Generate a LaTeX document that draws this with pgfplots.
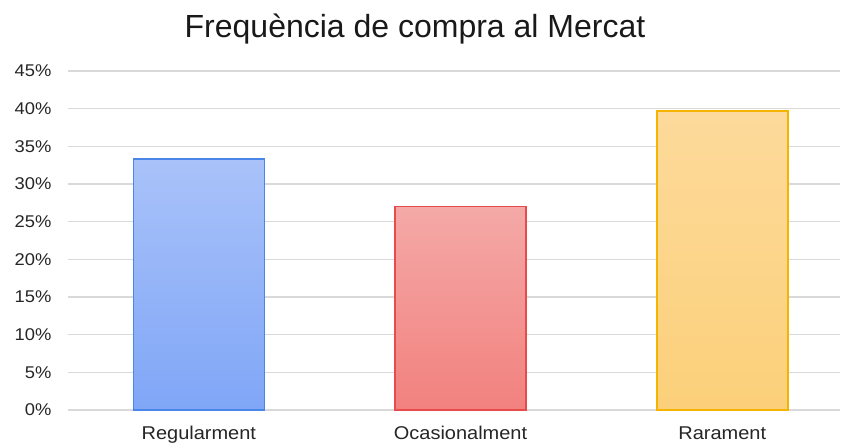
\documentclass[border=0pt]{standalone}
\usepackage{pgfplots}
\pgfplotsset{compat=1.18}
\usepackage{fontspec}
\setmainfont{Liberation Sans}
\newfontfamily\widesans[FakeStretch=1.08]{Liberation Sans}

\definecolor{gridgray}{HTML}{D9D9D9}
\definecolor{blueedge}{HTML}{4A86E8}
\definecolor{bluetop}{HTML}{A9C2F9}
\definecolor{bluebot}{HTML}{80A6F7}
\definecolor{rededge}{HTML}{E84B4B}
\definecolor{redtop}{HTML}{F4A9A7}
\definecolor{redbot}{HTML}{F2817E}
\definecolor{yeledge}{HTML}{F4B400}
\definecolor{yeltop}{HTML}{FDDA9B}
\definecolor{yelbot}{HTML}{FCD07A}

\begin{document}
\begin{tikzpicture}
\begin{axis}[
  scale only axis,
  width=772pt, height=339pt,
  ybar, bar width=131pt, bar shift=0pt,
  xmin=-0.5, xmax=2.45,
  ymin=0, ymax=45,
  ytick={0,5,...,45},
  yticklabel={\pgfmathprintnumber[assume math mode=true]{\tick}\%},
  xtick={0,1,2},
  xticklabels={Regularment,Ocasionalment,Rarament},
  ymajorgrids,
  major grid style={gridgray, line width=1.2pt},
  axis line style={draw=none},
  major tick length=0pt,
  tick label style={text=black!85},
  yticklabel style={font=\widesans\fontsize{17}{20}\selectfont, xshift=-13pt},
  xticklabel style={font=\widesans\fontsize{18.5}{22}\selectfont, yshift=-13pt},
  title={Frequència de compra al Mercat},
  title style={font=\fontsize{32}{38}\selectfont, yshift=17pt, xshift=-39pt, text=black!90},
  clip=false,
]
\addplot[draw=blueedge, line width=1.6pt, top color=bluetop, bottom color=bluebot] coordinates {(0,33.3)};
\addplot[draw=rededge, line width=1.6pt, top color=redtop, bottom color=redbot] coordinates {(1,27.0)};
\addplot[draw=yeledge, line width=1.6pt, top color=yeltop, bottom color=yelbot] coordinates {(2,39.7)};
\end{axis}
\pgfresetboundingbox
\path[use as bounding box] ([shift={(-68pt,-35pt)}]current axis.south west) rectangle ([shift={(1pt,71pt)}]current axis.north east);
\end{tikzpicture}
\end{document}
